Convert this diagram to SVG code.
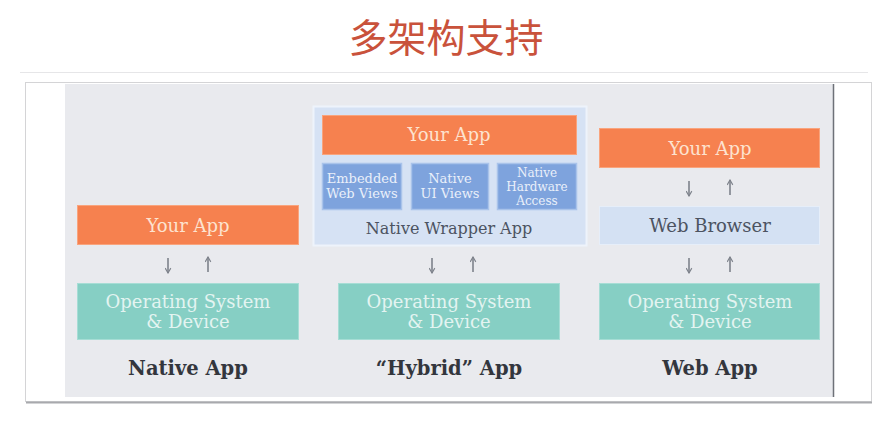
<svg xmlns="http://www.w3.org/2000/svg" width="888" height="424" viewBox="0 0 888 424">
<style>
.orange{fill:#f6814f;stroke:#f9a47d;stroke-width:1}
.teal{fill:#86cfc4;stroke:#a6ddd5;stroke-width:1}
.lblue{fill:#d4e1f3;stroke:#e6eef9;stroke-width:1}
.sub{fill:#7ea3dd;stroke:#a9c3ea;stroke-width:1.5}
.t{font-family:"DejaVu Serif","Liberation Serif",serif;text-anchor:middle}
.tw{fill:#fde3d0;font-size:18px}
.tt{fill:#e3f4f1;font-size:18px}
.td{fill:#4c5361;font-size:16px}
.tb2{fill:#4c5361;font-size:18px}
.ts{fill:#eaf0fa;font-size:13px}
.ts2{fill:#eaf0fa;font-size:12px}
.tb{fill:#33363d;font-size:19.5px;font-weight:bold}
.arr{stroke:#7d828b;stroke-width:1.6;fill:none}
</style>
<defs>
<marker id="ah" viewBox="0 0 10 10" refX="8" refY="5" markerWidth="7" markerHeight="7" orient="auto" markerUnits="userSpaceOnUse">
<path d="M1,1 L8,5 L1,9" fill="none" stroke="#7d828b" stroke-width="1.6"/>
</marker>
</defs>
<rect width="888" height="424" fill="#ffffff"/>
<text x="446" y="52" font-family="Noto Sans CJK SC, sans-serif" font-size="39" fill="#c9523b" text-anchor="middle">多架构支持</text>
<line x1="20" y1="72.5" x2="868" y2="72.5" stroke="#e6e6e8" stroke-width="1"/>
<g id="frame">
<rect x="25.5" y="82.5" width="846" height="319" fill="#ffffff" stroke="#d4d4d6" stroke-width="1"/>
<line x1="26" y1="402.5" x2="872" y2="402.5" stroke="#a8a9ad" stroke-width="2"/>
<rect x="65" y="84" width="768" height="313" fill="#e9eaee"/>
<line x1="833.5" y1="84" x2="833.5" y2="397" stroke="#6e7178" stroke-width="1.5"/>
</g>
<g id="native-yourapp"><rect class="orange" x="77.5" y="205.5" width="221" height="39"/><text class="t tw" x="188" y="232">Your App</text></g>
<g id="native-os"><rect class="teal" x="77.5" y="283.5" width="221" height="56"/><text class="t tt" x="188" y="308">Operating System</text><text class="t tt" x="188" y="328">&amp; Device</text></g>
<g id="native-label"><text class="t tb" x="188" y="375">Native App</text></g>
<g id="hybrid-wrapper"><rect x="313.5" y="106.5" width="273" height="139" fill="#d6e2f4" stroke="#eef3fb" stroke-width="2"/><text class="t td" x="449" y="234">Native Wrapper App</text></g>
<g id="hybrid-yourapp"><rect class="orange" x="322.5" y="115.5" width="254" height="39"/><text class="t tw" x="449" y="141">Your App</text></g>
<g id="hybrid-webviews"><rect class="sub" x="322.5" y="163.5" width="79" height="46"/><text class="t ts" x="362" y="183">Embedded</text><text class="t ts" x="362" y="198">Web Views</text></g>
<g id="hybrid-uiviews"><rect class="sub" x="411.5" y="163.5" width="77" height="46"/><text class="t ts" x="450" y="183">Native</text><text class="t ts" x="450" y="198">UI Views</text></g>
<g id="hybrid-hardware"><rect class="sub" x="497.5" y="163.5" width="79" height="46"/><text class="t ts2" x="537" y="177">Native</text><text class="t ts2" x="537" y="191">Hardware</text><text class="t ts2" x="537" y="205">Access</text></g>
<g id="hybrid-os"><rect class="teal" x="338.5" y="283.5" width="221" height="56"/><text class="t tt" x="449" y="308">Operating System</text><text class="t tt" x="449" y="328">&amp; Device</text></g>
<g id="hybrid-label"><text class="t tb" x="449" y="375">“Hybrid” App</text></g>
<g id="web-yourapp"><rect class="orange" x="599.5" y="128.5" width="220" height="39"/><text class="t tw" x="710" y="155">Your App</text></g>
<g id="web-browser"><rect class="lblue" x="599.5" y="206.5" width="220" height="38"/><text class="t tb2" x="710" y="232">Web Browser</text></g>
<g id="web-os"><rect class="teal" x="599.5" y="283.5" width="220" height="56"/><text class="t tt" x="710" y="308">Operating System</text><text class="t tt" x="710" y="328">&amp; Device</text></g>
<g id="web-label"><text class="t tb" x="710" y="375">Web App</text></g>
<g id="connectors">
<line class="arr" x1="168" y1="258" x2="168" y2="273" marker-end="url(#ah)"/>
<line class="arr" x1="208" y1="272" x2="208" y2="257" marker-end="url(#ah)"/>
<line class="arr" x1="432" y1="258" x2="432" y2="273" marker-end="url(#ah)"/>
<line class="arr" x1="473" y1="272" x2="473" y2="257" marker-end="url(#ah)"/>
<line class="arr" x1="689" y1="181" x2="689" y2="196" marker-end="url(#ah)"/>
<line class="arr" x1="730" y1="195" x2="730" y2="180" marker-end="url(#ah)"/>
<line class="arr" x1="689" y1="258" x2="689" y2="273" marker-end="url(#ah)"/>
<line class="arr" x1="730" y1="272" x2="730" y2="257" marker-end="url(#ah)"/>
</g>
</svg>
